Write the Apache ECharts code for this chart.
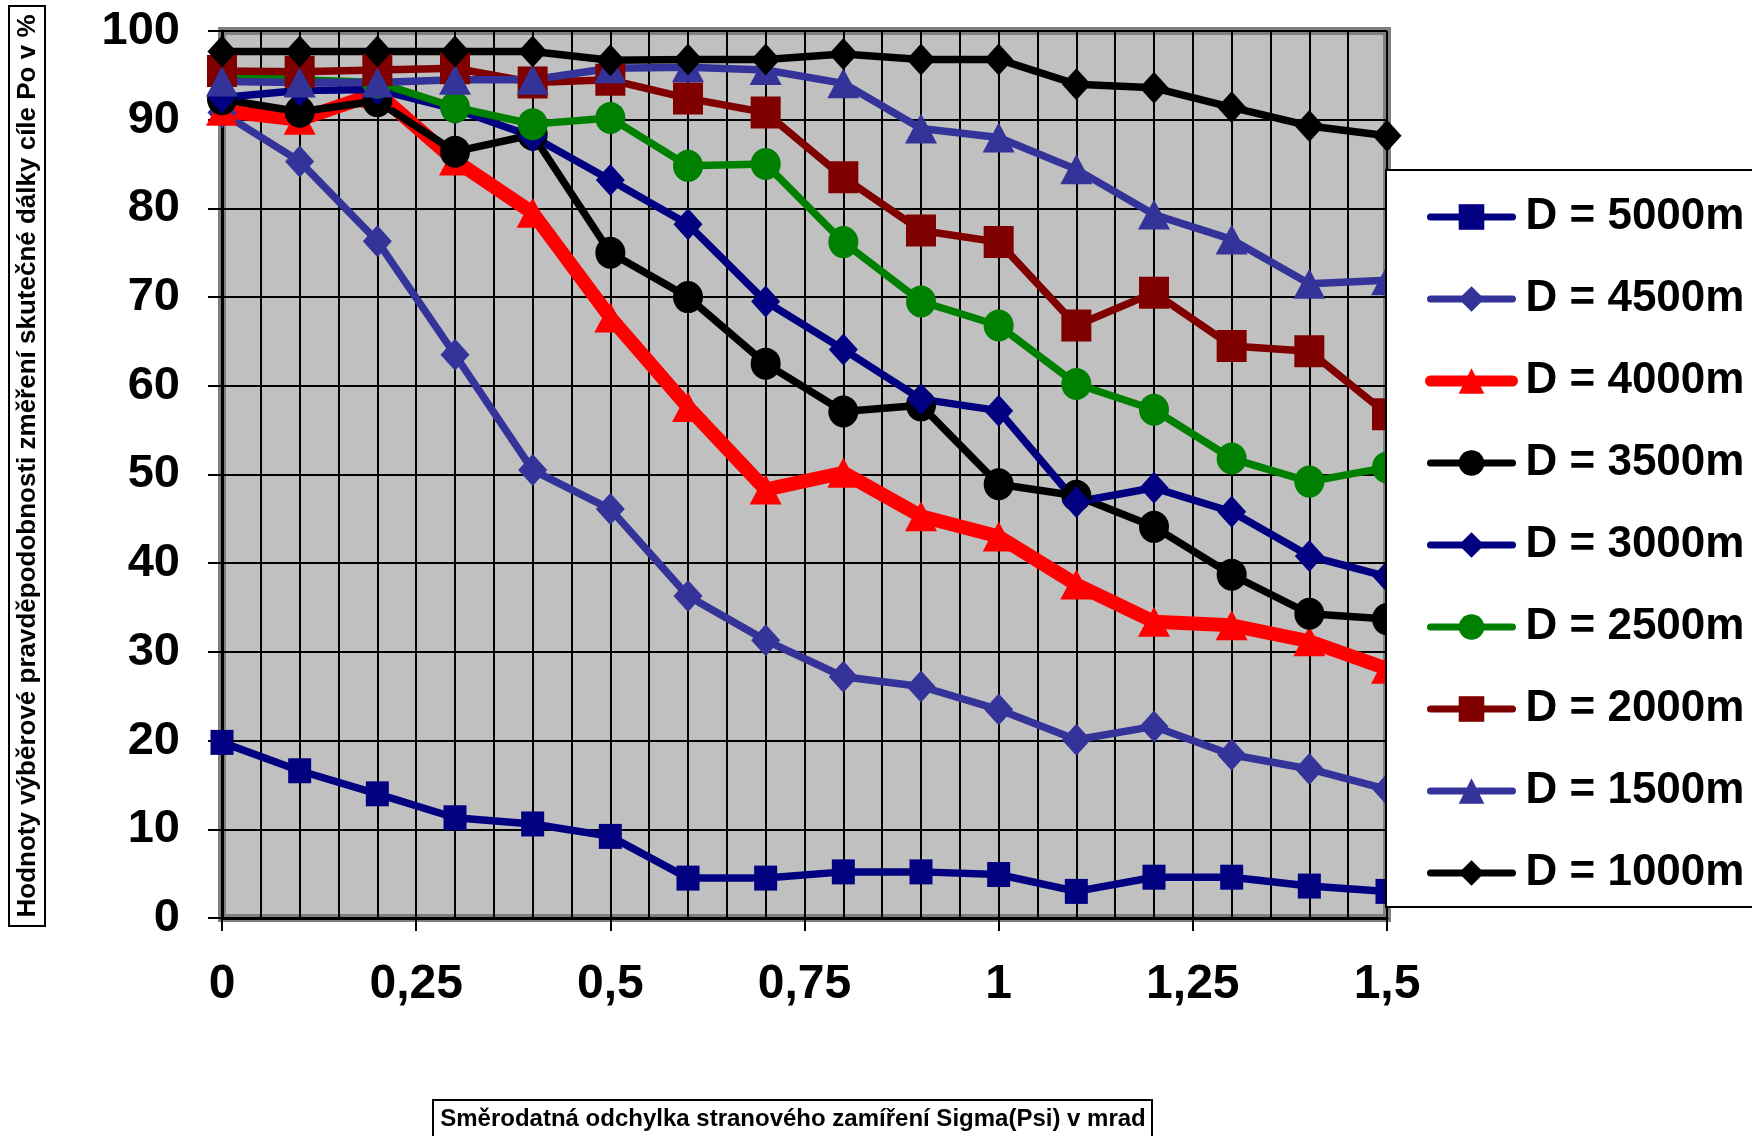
<!DOCTYPE html>
<html>
<head>
<meta charset="utf-8">
<script src="https://cdn.jsdelivr.net/npm/echarts@6/dist/echarts.min.js"></script>
<style>
html,body{margin:0;padding:0;background:#fff;}
#chart{width:1752px;height:1136px;}
</style>
</head>
<body>
<div id="chart"></div>
<script>
// ---- data ----
const sigma = [0, 0.1, 0.2, 0.3, 0.4, 0.5, 0.6, 0.7, 0.8, 0.9, 1.0, 1.1, 1.2, 1.3, 1.4, 1.5];
const seriesNames = ['D = 5000m', 'D = 4500m', 'D = 4000m', 'D = 3500m', 'D = 3000m', 'D = 2500m', 'D = 2000m', 'D = 1500m', 'D = 1000m'];
const d5000 = [19.8, 16.6, 14.0, 11.3, 10.6, 9.2, 4.5, 4.5, 5.2, 5.2, 4.9, 3.0, 4.6, 4.6, 3.6, 3.0];
const d4500 = [90.8, 85.3, 76.3, 63.5, 50.5, 46.1, 36.3, 31.3, 27.2, 26.1, 23.5, 20.1, 21.6, 18.4, 16.8, 14.5];
const d4000 = [91.0, 90.0, 93.0, 85.4, 79.5, 67.7, 57.6, 48.3, 50.2, 45.3, 43.0, 37.6, 33.4, 33.0, 31.2, 28.1];
const d3500 = [92.3, 90.9, 92.1, 86.4, 88.3, 75.0, 70.0, 62.5, 57.1, 57.8, 48.9, 47.6, 44.1, 38.7, 34.3, 33.7];
const d3000 = [92.5, 93.3, 93.4, 91.2, 88.1, 83.2, 78.2, 69.5, 64.1, 58.5, 57.2, 46.9, 48.5, 45.8, 40.8, 38.5];
const d2500 = [95.0, 94.5, 94.2, 91.4, 89.5, 90.2, 84.8, 85.0, 76.2, 69.5, 66.8, 60.2, 57.3, 51.8, 49.2, 50.8];
const d2000 = [95.5, 95.4, 95.6, 95.8, 94.2, 94.5, 92.4, 90.8, 83.5, 77.5, 76.2, 66.8, 70.5, 64.5, 63.9, 56.8];
const d1500 = [94.3, 94.2, 94.2, 94.5, 94.5, 95.8, 95.9, 95.6, 94.1, 89.0, 88.0, 84.4, 79.3, 76.5, 71.5, 71.9];
const d1000 = [97.7, 97.7, 97.7, 97.7, 97.7, 96.7, 96.8, 96.8, 97.4, 96.8, 96.8, 94.0, 93.6, 91.4, 89.3, 88.2];
const yTitle = 'Hodnoty výběrové pravděpodobnosti změření skutečné dálky cíle Po v %';
const xTitle = 'Směrodatná odchylka stranového zamíření Sigma(Psi) v mrad';

// ---- styles ----
const seriesValues = [d5000, d4500, d4000, d3500, d3000, d2500, d2000, d1500, d1000];
const styles = [
  {color: '#000080', symbol: 'rect', size: [23, 25], width: 7.5, legendWidth: 7},
  {color: '#333399', symbol: 'diamond', size: [29, 32], width: 7.5, legendWidth: 7},
  {color: '#FF0000', symbol: 'triangle', size: [32, 30], width: 14, legendWidth: 11},
  {color: '#000000', symbol: 'circle', size: [30, 32], width: 7.5, legendWidth: 7},
  {color: '#000080', symbol: 'diamond', size: [29, 32], width: 7.5, legendWidth: 7},
  {color: '#008000', symbol: 'circle', size: [30, 32], width: 7.5, legendWidth: 7},
  {color: '#800000', symbol: 'rect', size: [30, 32], width: 7.5, legendWidth: 7},
  {color: '#333399', symbol: 'triangle', size: [32, 30], width: 7.5, legendWidth: 7},
  {color: '#000000', symbol: 'diamond', size: [29, 32], width: 7.5, legendWidth: 7}
];
const FONT = "'Liberation Sans', Arial, sans-serif";

const chart = echarts.init(document.getElementById('chart'), null, {renderer: 'canvas'});
const option = {
  animation: false,
  backgroundColor: '#ffffff',
  grid: {
    left: 222, right: 365, top: 31, bottom: 218,
    show: true, backgroundColor: '#C0C0C0', borderColor: '#808080', borderWidth: 8
  },
  xAxis: {
    type: 'value', min: 0, max: 1.5, interval: 0.25,
    axisLine: {show: true, onZero: false, lineStyle: {color: '#000', width: 3}},
    axisTick: {show: true, length: 13, lineStyle: {color: '#000', width: 2}},
    minorTick: {show: false, splitNumber: 5},
    splitLine: {show: true, lineStyle: {color: '#000', width: 2}},
    minorSplitLine: {show: true, lineStyle: {color: '#000', width: 2}},
    axisLabel: {
      margin: 43, color: '#000', fontSize: 48, fontWeight: 'bold', fontFamily: FONT,
      formatter: v => String(v).replace('.', ',')
    }
  },
  yAxis: {
    type: 'value', min: 0, max: 100, interval: 10,
    axisLine: {show: true, lineStyle: {color: '#000', width: 3}},
    axisTick: {show: true, length: 14, lineStyle: {color: '#000', width: 2}},
    splitLine: {show: true, lineStyle: {color: '#000', width: 2}},
    axisLabel: {margin: 42, color: '#000', fontSize: 47, fontWeight: 'bold', fontFamily: FONT}
  },
  legend: {
    orient: 'vertical', left: 1420, top: 189, z: 200,
    itemWidth: 82, itemHeight: 32, itemGap: 36,
    data: seriesNames.map((n, i) => ({
      name: n,
      lineStyle: {width: styles[i].legendWidth, cap: 'round'}
    })),
    textStyle: {color: '#000', fontSize: 44, fontWeight: 'bold', fontFamily: FONT, lineHeight: 46, padding: [0, 0, 0, 8]}
  },
  graphic: [
    {type: 'rect', z: 150, shape: {x: 1386, y: 170, width: 420, height: 737},
     style: {fill: '#fff', stroke: '#000', lineWidth: 2}},
    {type: 'rect', z: 150, shape: {x: 9, y: 6, width: 36, height: 920},
     style: {fill: '#fff', stroke: '#000', lineWidth: 2}},
    {type: 'text', z: 151, x: 28, y: 466, rotation: Math.PI / 2,
     style: {text: yTitle, fill: '#000', font: "bold 26px " + FONT, align: 'center', verticalAlign: 'middle'}},
    {type: 'rect', z: 150, shape: {x: 433, y: 1100, width: 719, height: 40},
     style: {fill: '#fff', stroke: '#000', lineWidth: 2}},
    {type: 'text', z: 151, x: 793, y: 1119,
     style: {text: xTitle, fill: '#000', font: "bold 24px " + FONT, align: 'center', verticalAlign: 'middle'}}
  ],
  series: seriesNames.map((name, i) => ({
    type: 'line', name: name,
    data: sigma.map((x, j) => [x, seriesValues[i][j]]),
    symbol: styles[i].symbol, symbolSize: styles[i].size,
    showAllSymbol: true, clip: false,
    lineStyle: {color: styles[i].color, width: styles[i].width},
    itemStyle: {color: styles[i].color, borderWidth: 0},
    emphasis: {disabled: true},
    z: 2
  }))
};
chart.setOption(option);
</script>
</body>
</html>
